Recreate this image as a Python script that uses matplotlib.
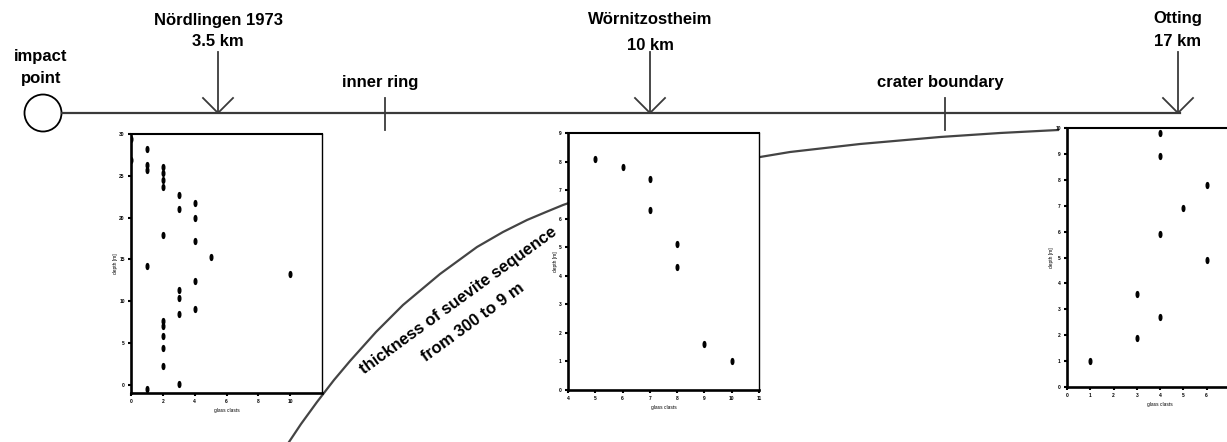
import matplotlib.pyplot as plt
import numpy as np
from matplotlib.path import Path
from matplotlib.transforms import Affine2D
from matplotlib.patches import Circle

plt.rcParams['font.family'] = ['Liberation Sans', 'DejaVu Sans']
plt.rcParams['font.weight'] = 'bold'

# profile sites (schematic x position in px along the line)
site_names = ['Nördlingen 1973', 'Wörnitzostheim', 'Otting']
site_dist = ['3.5 km', '10 km', '17 km']
site_x = [218, 650, 1178]

ring_names = ['inner ring', 'crater boundary']
ring_x = [385, 945]

# suevite thickness curve (schematic, px)
curve_x = [289, 301, 317, 334, 350, 376, 403, 440, 477, 503, 527, 546, 563,
           650, 760, 790, 860, 940, 1000, 1058]
curve_y = [442, 424, 402, 380, 361, 332, 305, 274, 247, 232, 220, 212, 205,
           175, 157, 152, 144, 137, 133, 130]

# scatter data of the three cores
nord_x = [0, 0, 1, 1, 1, 2, 2, 2, 2, 3, 3, 4, 4, 2, 4, 5, 1, 10, 4, 3, 3, 3, 4, 2, 2, 2, 2, 2, 3, 1]
nord_y = [29.4, 26.9, 28.2, 26.3, 25.7, 26.1, 25.3, 24.5, 23.7, 22.7, 21.0, 21.8, 19.9, 17.9, 17.2,
          15.3, 14.2, 13.2, 12.4, 11.3, 10.4, 8.4, 9.0, 7.6, 7.0, 5.8, 4.4, 2.2, 0.1, -0.5]
worn_x = [5, 6, 7, 7, 8, 8, 9, 10]
worn_y = [8.1, 7.8, 7.4, 6.3, 5.1, 4.3, 1.6, 1.0]
ott_x = [4, 4, 6, 5, 4, 6, 3, 4, 3, 1]
ott_y = [9.8, 8.9, 7.8, 6.9, 5.9, 4.9, 3.6, 2.7, 1.9, 1.0]

W, H = 1227, 442
fig = plt.figure(figsize=(W / 100, H / 100), dpi=100, facecolor='white')
ax = fig.add_axes([0, 0, 1, 1])
ax.set_xlim(0, W)
ax.set_ylim(H, 0)
ax.axis('off')

fs = 12
line_y = 113
lc = '#3a3a3a'
ax.plot([62, 1180], [line_y, line_y], color=lc, lw=1.6)
ax.add_patch(Circle((43, line_y), 18.5, fill=False, ec='black', lw=1.3))
ax.text(41, 56, 'impact', ha='center', va='center', fontsize=fs)
ax.text(41, 79, 'point', ha='center', va='center', fontsize=fs)

name_y = [20, 20, 18]
dist_y = [42, 45, 41]
for i in range(3):
    x = site_x[i]
    ax.text(x, name_y[i], site_names[i], ha='center', va='center', fontsize=fs)
    ax.text(x, dist_y[i], site_dist[i], ha='center', va='center', fontsize=fs)
    ax.plot([x, x], [52, line_y], color=lc, lw=1.3)
    ax.plot([x - 15, x, x + 15], [98, line_y, 98], color=lc, lw=1.3)

for i in range(2):
    x = ring_x[i]
    ax.text(x - 5, 82, ring_names[i], ha='center', va='center', fontsize=fs)
    ax.plot([x, x], [98, 130], color=lc, lw=1.3)

ax.plot(curve_x, curve_y, color='#444444', lw=1.6)
ax.text(458, 301, 'thickness of suevite sequence', rotation=36, rotation_mode='anchor',
        ha='center', va='center', fontsize=fs)
ax.text(473, 322, 'from 300 to 9 m', rotation=36, rotation_mode='anchor',
        ha='center', va='center', fontsize=fs)

ell = Path.unit_circle().transformed(Affine2D().scale(0.45, 1.0))


def inset(l, t, r, b, xs, ys, xlim, ylim, xt, xtl, yt, xl, yl):
    a = fig.add_axes([l / W, 1 - b / H, (r - l) / W, (b - t) / H])
    a.set_facecolor('white')
    a.plot(xs, ys, ls='none', marker=ell, ms=4.2, color='black')
    a.set_xlim(*xlim)
    a.set_ylim(*ylim)
    a.set_xticks(xt, xtl)
    a.set_yticks(yt)
    a.tick_params(length=2.5, width=1.5, labelsize=3.5, pad=2)
    a.spines['left'].set_linewidth(1.9)
    a.spines['bottom'].set_linewidth(1.9)
    a.spines['top'].set_linewidth(1.5)
    a.spines['right'].set_linewidth(1.0)
    a.set_xlabel(xl, fontsize=3.5, labelpad=3)
    a.set_ylabel(yl, fontsize=3.5, labelpad=1)
    return a


inset(131, 134, 322, 393, nord_x, nord_y, (0, 12), (-1, 30),
      [0, 2, 4, 6, 8, 10], ['0', '2', '4', '6', '8', '10'],
      [0, 5, 10, 15, 20, 25, 30], 'glass clasts', 'depth [m]')
inset(568, 133, 759, 390, worn_x, worn_y, (4, 11), (0, 9),
      range(4, 12), [str(v) for v in range(4, 12)],
      range(0, 10), 'glass clasts', 'depth [m]')
inset(1067, 128, 1253, 387, ott_x, ott_y, (0, 8), (0, 10),
      range(0, 8), ['0', '1', '2', '3', '4', '5', '6', ''],
      range(0, 11), 'glass clasts', 'depth [m]')

fig.savefig('out.png', dpi=100)
